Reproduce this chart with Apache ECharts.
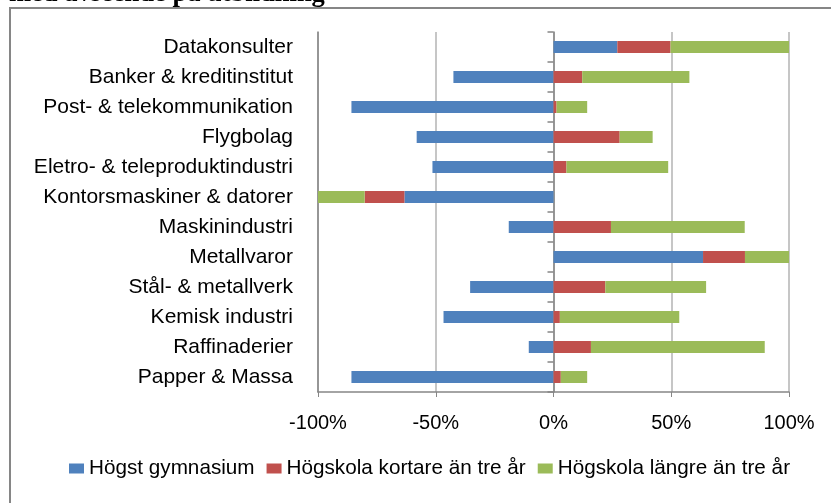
<!DOCTYPE html>
<html><head><meta charset="utf-8">
<script src="https://cdn.jsdelivr.net/npm/echarts@6/dist/echarts.min.js"></script>
<style>html,body{margin:0;padding:0;background:#fff}#c{width:831px;height:503px}</style>
</head><body><div id="c"></div>
<script>
var categories = ["Datakonsulter","Banker & kreditinstitut","Post- & telekommunikation","Flygbolag","Eletro- & teleproduktindustri","Kontorsmaskiner & datorer","Maskinindustri","Metallvaror","Stål- & metallverk","Kemisk industri","Raffinaderier","Papper & Massa"];
var seriesNames = ["Högst gymnasium","Högskola kortare än tre år","Högskola längre än tre år"];
var gymnasium = [27.1,-42.5,-85.8,-58.1,-51.4,-63.3,-19.0,63.5,-35.4,-46.7,-10.5,-85.8];
var kortare   = [22.6,12.2,1.3,28.1,5.5,-16.9,24.4,17.8,22.0,2.7,15.9,3.1];
var langre    = [50.3,45.5,13.0,14.0,43.2,-19.8,56.8,18.7,42.8,50.7,73.8,11.2];
var xTicks = [-100,-50,0,50,100];
var colors = ["#4f81bd","#c0504d","#9bbb59"];
var FONT = "Liberation Sans";
var chart = echarts.init(document.getElementById('c'));
var vals = [gymnasium,kortare,langre];
chart.setOption({
  animation:false,
  textStyle:{fontFamily:FONT},
  graphic:[
    {type:'rect',shape:{x:10,y:8,width:900,height:600},style:{fill:'none',stroke:'#868686',lineWidth:2},z:-1},
    {type:'text',left:9,top:-19,style:{text:'med avseende på utbildning',font:'bold 26.5px "Liberation Serif"',fill:'#000'}}
  ],
  grid:{left:318,right:42,top:32,bottom:111},
  legend:{bottom:19,left:64,itemWidth:15,itemHeight:10,itemGap:12,icon:'rect',
    textStyle:{fontSize:20.7,color:'#000',fontFamily:FONT},data:seriesNames},
  xAxis:{type:'value',min:-100,max:100,interval:50,
    axisLabel:{formatter:function(v){return v+'%';},fontSize:20,color:'#000',margin:21},
    axisLine:{show:true,onZero:false,lineStyle:{color:'#868686',width:1.5}},
    axisTick:{show:true,length:5,lineStyle:{color:'#868686'}},
    splitLine:{show:true,lineStyle:{color:'#b3b3b3',width:1.5}}},
  yAxis:[
    {type:'category',data:categories,inverse:true,position:'left',
     axisLine:{show:true,onZero:false,lineStyle:{color:'#868686',width:1.5}},axisTick:{show:false},
     axisLabel:{fontSize:21,color:'#000',margin:25}},
    {type:'category',data:categories,inverse:true,position:'left',
     axisLine:{show:true,onZero:true,lineStyle:{color:'#868686',width:1.5}},
     axisTick:{show:true,length:6,lineStyle:{color:'#868686',width:1.5}},
     axisLabel:{show:false}}
  ],
  series:seriesNames.map(function(n,i){return {name:n,type:'bar',stack:'s',yAxisIndex:0,
    barWidth:12,itemStyle:{color:colors[i]},data:vals[i]};})
});
</script></body></html>
